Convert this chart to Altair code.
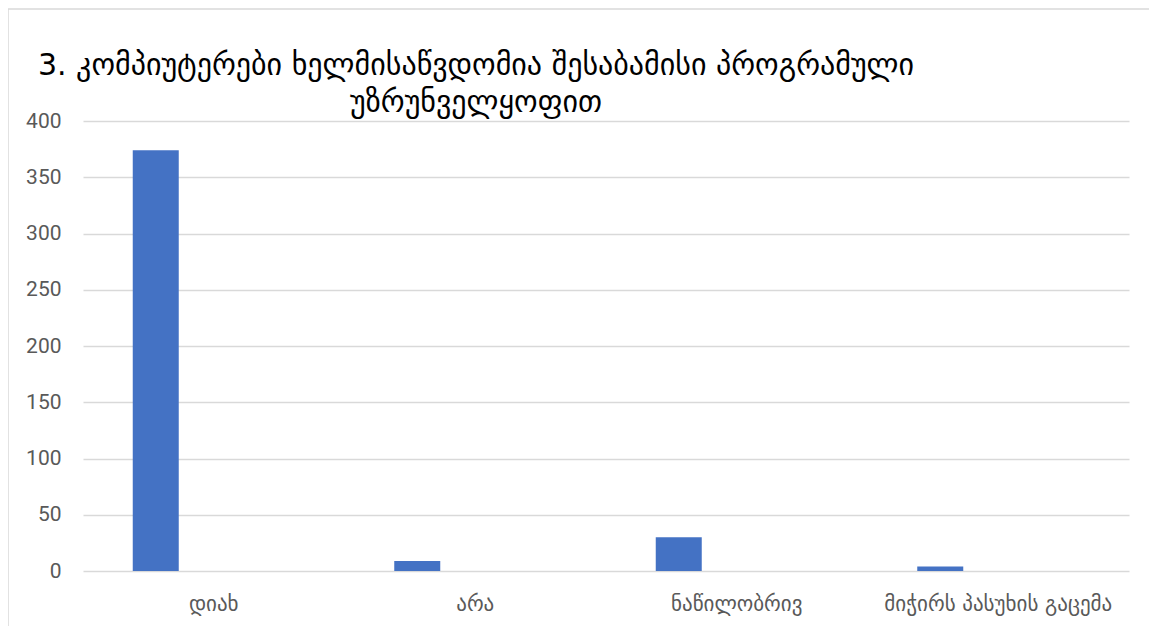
import altair as alt
import pandas as pd

categories = ["დიახ", "არა", "ნაწილობრივ", "მიჭირს პასუხის გაცემა"]
values = [374, 9, 30, 4]
y_ticks = [0, 50, 100, 150, 200, 250, 300, 350, 400]
title_lines = ["3. კომპიუტერები ხელმისაწვდომია შესაბამისი პროგრამული",
               "უზრუნველყოფით"]

df = pd.DataFrame({"category": categories, "value": values})
one = pd.DataFrame({"k": [0]})

W, H = 1046, 450

frame = alt.Chart(one).mark_rect(
    fill=None, stroke="#d9d9d9", strokeWidth=1.5
).encode(
    x=alt.value(-75), x2=alt.value(W + 200),
    y=alt.value(-112), y2=alt.value(H + 200)
)

title1 = alt.Chart(one).mark_text(
    font="DejaVu Sans", fontSize=30, color="#000000",
    align="center", baseline="alphabetic"
).encode(x=alt.value(393), y=alt.value(-46), text=alt.value(title_lines[0]))

title2 = alt.Chart(one).mark_text(
    font="DejaVu Sans", fontSize=30, color="#000000",
    align="center", baseline="alphabetic"
).encode(x=alt.value(393), y=alt.value(-9), text=alt.value(title_lines[1]))

bars = alt.Chart(df).mark_bar(color="#4472C4", width=46, xOffset=-58).encode(
    x=alt.X("category:N", sort=categories,
            scale=alt.Scale(paddingInner=0, paddingOuter=0),
            axis=alt.Axis(title=None, labelAngle=0, ticks=False, domain=False,
                          labelFont="DejaVu Sans", labelFontSize=21,
                          labelColor="#595959", labelPadding=22,
                          labelLimit=0)),
    y=alt.Y("value:Q", scale=alt.Scale(domain=[0, 400], nice=False),
            axis=alt.Axis(title=None, values=y_ticks, ticks=False, domain=False,
                          grid=True, gridColor="#d9d9d9", gridWidth=1.5,
                          labelFont="Roboto", labelFontSize=21,
                          labelColor="#595959", labelPadding=22))
)

chart = alt.layer(frame, bars, title1, title2).properties(
    width=W, height=H,
    padding={"left": 75, "top": 113, "right": 20, "bottom": 55},
    autosize="none",
).configure_view(stroke=None)

chart.save("out.html", embed_options={"renderer": "svg", "actions": False})
